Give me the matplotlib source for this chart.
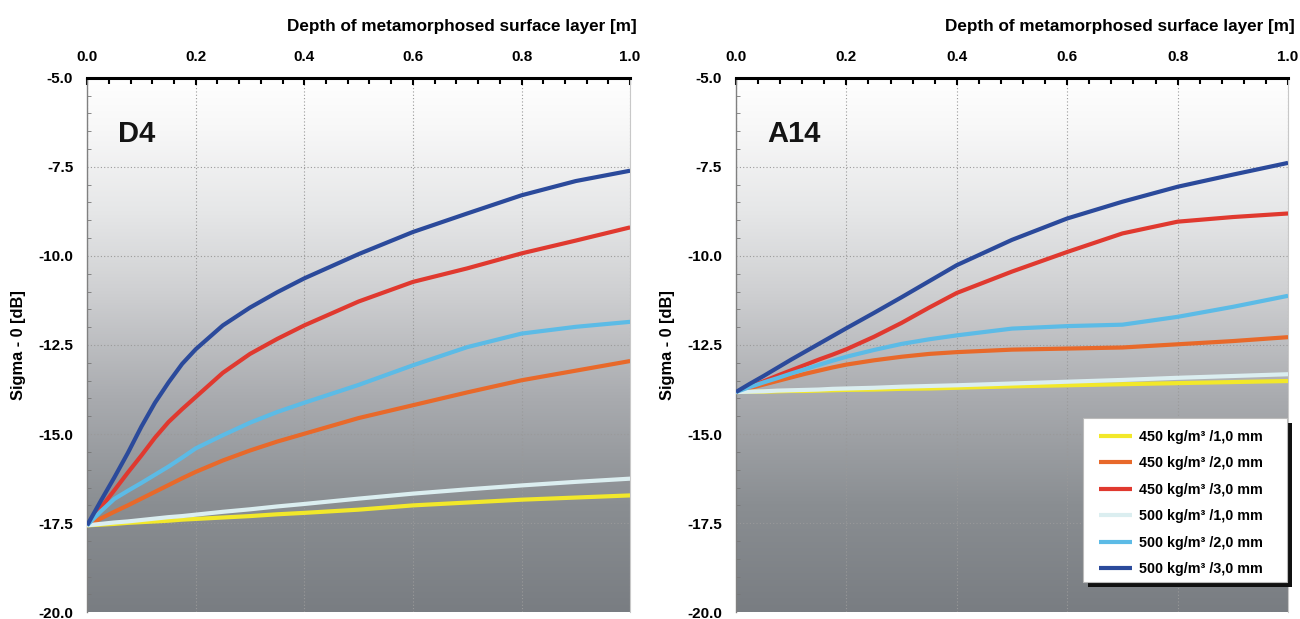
import numpy as np
import matplotlib
matplotlib.use("Agg")
import matplotlib.pyplot as plt
from matplotlib.colors import LinearSegmentedColormap
from matplotlib.ticker import MultipleLocator
from matplotlib.patches import Rectangle

plt.rcParams["font.family"] = ["Liberation Sans", "DejaVu Sans"]
plt.rcParams["font.weight"] = "bold"

# depth of metamorphosed layer [m]
depth = [0.0, 0.025, 0.05, 0.075, 0.1, 0.125, 0.15, 0.175, 0.2, 0.25, 0.3, 0.35,
         0.4, 0.5, 0.6, 0.7, 0.8, 0.9, 1.0]

labels = ["450 kg/m³ /1,0 mm", "450 kg/m³ /2,0 mm", "450 kg/m³ /3,0 mm",
          "500 kg/m³ /1,0 mm", "500 kg/m³ /2,0 mm", "500 kg/m³ /3,0 mm"]
colors = ["#f2e82a", "#e8692a", "#e0392f", "#dbeef0", "#5cbbe6", "#2b4a9b"]

# D4 site
d4_450_1 = [-17.56, -17.54, -17.52, -17.49, -17.47, -17.45, -17.43, -17.40, -17.38, -17.34,
            -17.30, -17.25, -17.21, -17.12, -17.00, -16.92, -16.84, -16.78, -16.72]
d4_450_2 = [-17.56, -17.37, -17.18, -17.00, -16.81, -16.62, -16.43, -16.24, -16.06, -15.74,
            -15.46, -15.21, -14.99, -14.55, -14.19, -13.83, -13.49, -13.22, -12.95]
d4_450_3 = [-17.56, -17.07, -16.58, -16.08, -15.60, -15.10, -14.66, -14.30, -13.96, -13.28,
            -12.75, -12.33, -11.95, -11.28, -10.73, -10.35, -9.93, -9.57, -9.20]
d4_500_1 = [-17.56, -17.52, -17.48, -17.45, -17.41, -17.37, -17.33, -17.30, -17.26, -17.18,
            -17.11, -17.03, -16.96, -16.81, -16.67, -16.55, -16.44, -16.34, -16.25]
d4_500_2 = [-17.56, -17.17, -16.82, -16.59, -16.37, -16.14, -15.91, -15.66, -15.40, -15.03,
            -14.68, -14.38, -14.12, -13.62, -13.07, -12.56, -12.18, -11.99, -11.85]
d4_500_3 = [-17.56, -16.88, -16.22, -15.53, -14.79, -14.12, -13.55, -13.03, -12.62, -11.95,
            -11.45, -11.02, -10.63, -9.95, -9.33, -8.81, -8.30, -7.90, -7.61]

# A14 site
a14_450_1 = [-13.82, -13.81, -13.81, -13.80, -13.79, -13.79, -13.78, -13.77, -13.76, -13.75,
             -13.73, -13.72, -13.70, -13.66, -13.63, -13.60, -13.57, -13.54, -13.51]
a14_450_2 = [-13.82, -13.71, -13.61, -13.51, -13.41, -13.31, -13.22, -13.13, -13.05, -12.93,
             -12.83, -12.75, -12.70, -12.63, -12.60, -12.57, -12.48, -12.39, -12.28]
a14_450_3 = [-13.82, -13.67, -13.52, -13.36, -13.21, -13.06, -12.91, -12.77, -12.62, -12.27,
             -11.88, -11.45, -11.04, -10.44, -9.89, -9.37, -9.04, -8.91, -8.81]
a14_500_1 = [-13.82, -13.81, -13.80, -13.78, -13.77, -13.76, -13.75, -13.73, -13.72, -13.70,
             -13.67, -13.65, -13.63, -13.58, -13.53, -13.48, -13.42, -13.37, -13.32]
a14_500_2 = [-13.82, -13.68, -13.55, -13.43, -13.30, -13.18, -13.06, -12.94, -12.83, -12.64,
             -12.47, -12.34, -12.23, -12.04, -11.97, -11.93, -11.71, -11.43, -11.12]
a14_500_3 = [-13.82, -13.59, -13.37, -13.14, -12.91, -12.69, -12.47, -12.25, -12.03, -11.60,
             -11.16, -10.71, -10.26, -9.55, -8.95, -8.48, -8.06, -7.72, -7.39]

panels = [
    ("D4", [d4_450_1, d4_450_2, d4_450_3, d4_500_1, d4_500_2, d4_500_3]),
    ("A14", [a14_450_1, a14_450_2, a14_450_3, a14_500_1, a14_500_2, a14_500_3]),
]

# white at top fading to grey at bottom
bg = LinearSegmentedColormap.from_list("bg", [
    (0.0, "#797d82"), (0.2, "#8a8e92"), (0.4, "#a9abaf"),
    (0.6, "#cfd0d2"), (0.75, "#e6e7e8"), (0.9, "#f7f7f7"), (1.0, "#ffffff")])

fig = plt.figure(figsize=(13, 6.19), dpi=100)
positions = [[0.0670, 0.0108, 0.4177, 0.8637], [0.5661, 0.0108, 0.4247, 0.8637]]

for (name, series), pos in zip(panels, positions):
    ax = fig.add_axes(pos)
    grad = np.linspace(0, 1, 256).reshape(-1, 1)
    ax.imshow(grad, cmap=bg, origin="lower", aspect="auto",
              extent=[0, 1, -20, -5], zorder=0)
    ax.set_xlim(0, 1)
    ax.set_ylim(-20, -5)

    for vals, lab, c in zip(series, labels, colors):
        ax.plot(depth, vals, color=c, lw=3, label=lab, zorder=3,
                solid_capstyle="butt", solid_joinstyle="round")

    ax.xaxis.tick_top()
    ax.xaxis.set_label_position("top")
    ax.xaxis.set_major_locator(MultipleLocator(0.2))
    ax.xaxis.set_minor_locator(MultipleLocator(0.04))
    ax.yaxis.set_major_locator(MultipleLocator(2.5))
    ax.yaxis.set_minor_locator(MultipleLocator(0.5))
    ax.xaxis.set_major_formatter(lambda v, p: f"{v:.1f}")
    ax.yaxis.set_major_formatter(lambda v, p: f"{v:.1f}")
    ax.tick_params(axis="x", which="both", direction="in", top=True, bottom=False,
                   labelsize=11, pad=10, color="black", width=1.5)
    ax.tick_params(axis="x", which="major", length=5)
    ax.tick_params(axis="x", which="minor", length=4)
    ax.tick_params(axis="y", which="both", direction="in", color="#777777",
                   labelsize=11, pad=10)
    ax.tick_params(axis="y", which="major", length=0)
    ax.tick_params(axis="y", which="minor", length=3)

    ax.grid(True, which="major", color="#9a9a9a", linestyle=(0, (1, 2)), lw=0.8, zorder=1)
    for gl in ax.get_xgridlines() + ax.get_ygridlines():
        gl.set_zorder(1)

    ax.spines["top"].set_linewidth(2.2)
    ax.spines["top"].set_color("black")
    ax.spines["top"].set_zorder(4)
    ax.spines["left"].set_color("#808080")
    ax.spines["left"].set_linewidth(1)
    ax.spines["right"].set_color("#c8c8c8")
    ax.spines["bottom"].set_visible(False)

    ax.set_xlabel("Depth of metamorphosed surface layer [m]", fontsize=12.3,
                  fontweight="bold", labelpad=11, loc="right")
    ax.xaxis.set_label_coords(1.012, 1.087)
    ax.set_ylabel("Sigma - 0 [dB]", fontsize=11.8, fontweight="bold", labelpad=9)
    ax.text(0.057, 0.895, name, transform=ax.transAxes, fontsize=21,
            fontweight="bold", color="#141414", va="center")

    if name == "A14":
        # legend box with a dark drop shadow, drawn by hand
        box_x, box_y, box_w, box_h = 0.6287, 0.0567, 0.3695, 0.3067
        dx = 5 / (pos[2] * 1300)
        dy = 5 / (pos[3] * 619)
        ax.add_patch(Rectangle((box_x + dx, box_y - dy), box_w, box_h,
                               transform=ax.transAxes, facecolor="#111111",
                               edgecolor="none", zorder=5, clip_on=False))
        ax.add_patch(Rectangle((box_x, box_y), box_w, box_h,
                               transform=ax.transAxes, facecolor="white",
                               edgecolor="#bbbbbb", lw=0.8, zorder=6, clip_on=False))
        leg = ax.legend(loc="upper left", bbox_to_anchor=(0.6378, 0.362),
                        borderaxespad=0, fontsize=10.3, frameon=False,
                        handlelength=2.3, labelspacing=0.88,
                        borderpad=0.75, handletextpad=0.5)
        leg.set_zorder(7)
        for t in leg.get_texts():
            t.set_fontweight("bold")
        for h in leg.get_lines():
            h.set_linewidth(3)

fig.savefig("out.png", dpi=100)
